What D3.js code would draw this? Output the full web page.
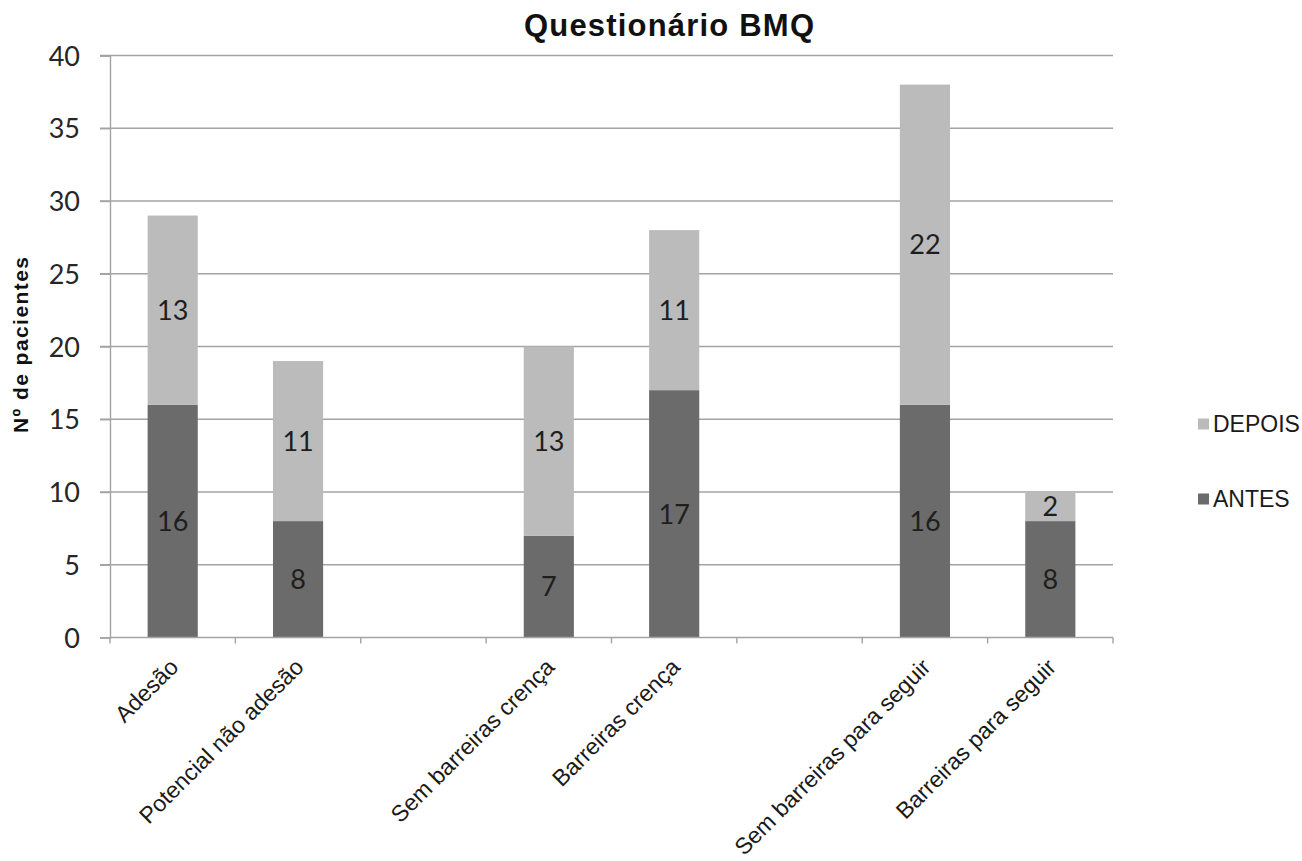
<!DOCTYPE html>
<html>
<head>
<meta charset="utf-8">
<script src="https://cdn.jsdelivr.net/npm/d3@7"></script>
<style>
  html, body { margin: 0; padding: 0; background: #ffffff; }
  svg { display: block; }
</style>
</head>
<body>
<svg id="chart" width="1302" height="861"></svg>
<script>
// BMQ questionnaire: number of patients per category, before and after
const categories = ["Adesão", "Potencial não adesão", "", "Sem barreiras crença", "Barreiras crença", "", "Sem barreiras para seguir", "Barreiras para seguir"];
const antes  = [16, 8, null, 7, 17, null, 16, 8];
const depois = [13, 11, null, 13, 11, null, 22, 2];
const seriesNames = ["ANTES", "DEPOIS"];
const yTicks = [0, 5, 10, 15, 20, 25, 30, 35, 40];

const colors = { ANTES: "#6b6b6b", DEPOIS: "#bbbbbb" };
const gridColor = "#a3a3a3";

const svg = d3.select("#chart");
const plot = { left: 110, right: 1113, top: 55.5, bottom: 637.5 };

const rows = categories.map((c, i) => ({ i, ANTES: antes[i], DEPOIS: depois[i] }));

const slot = d3.scaleBand()
  .domain(d3.range(categories.length))
  .range([plot.left, plot.right])
  .padding(0);
const barW = slot.bandwidth() * 0.4;

const y = d3.scaleLinear().domain([0, 40]).range([plot.bottom, plot.top]);

// gridlines
svg.append("g")
  .selectAll("line")
  .data(yTicks.slice(1))
  .join("line")
  .attr("x1", plot.left - 10).attr("x2", plot.right)
  .attr("y1", d => y(d)).attr("y2", d => y(d))
  .attr("stroke", gridColor).attr("stroke-width", 1.4);

// y axis
const yAxis = d3.axisLeft(y).tickValues(yTicks).tickSize(10).tickPadding(20);
const gy = svg.append("g").attr("transform", `translate(${plot.left},0)`).call(yAxis);
gy.select(".domain").attr("stroke", gridColor).attr("stroke-width", 1.4);
gy.selectAll(".tick line").attr("stroke", gridColor).attr("stroke-width", 1.4);
gy.selectAll(".tick text")
  .attr("font-family", "Lato, 'Open Sans', sans-serif")
  .attr("font-size", 27)
  .attr("fill", "#262626")
  .attr("dy", "0.36em");

// stacked bars
const stack = d3.stack().keys(seriesNames).value((d, k) => d[k] == null ? 0 : d[k]);
const layers = stack(rows.filter(r => r.ANTES != null));

const layerG = svg.append("g").selectAll("g")
  .data(layers)
  .join("g")
  .attr("fill", d => colors[d.key]);

layerG.selectAll("rect")
  .data(d => d.map(s => ({ key: d.key, s })))
  .join("rect")
  .attr("x", d => slot(d.s.data.i) + (slot.bandwidth() - barW) / 2)
  .attr("width", barW)
  .attr("y", d => y(d.s[1]))
  .attr("height", d => y(d.s[0]) - y(d.s[1]));

// value labels centred in each segment
layerG.selectAll("text")
  .data(d => d.map(s => ({ key: d.key, s })))
  .join("text")
  .attr("x", d => slot(d.s.data.i) + slot.bandwidth() / 2)
  .attr("y", d => y((d.s[0] + d.s[1]) / 2))
  .attr("dy", "0.36em")
  .attr("text-anchor", "middle")
  .attr("font-family", "Lato, 'Open Sans', sans-serif")
  .attr("font-size", 27)
  .attr("fill", "#1e1e1e")
  .text(d => d.s.data[d.key]);

// x axis: baseline and ticks between categories
const gx = svg.append("g");
gx.append("line")
  .attr("x1", plot.left).attr("x2", plot.right)
  .attr("y1", plot.bottom).attr("y2", plot.bottom)
  .attr("stroke", gridColor).attr("stroke-width", 1.4);
const bounds = d3.range(categories.length).map(i => slot(i)).concat([plot.right]);
gx.selectAll("line.tk")
  .data(bounds)
  .join("line")
  .attr("class", "tk")
  .attr("x1", d => d).attr("x2", d => d)
  .attr("y1", plot.bottom).attr("y2", plot.bottom + 6)
  .attr("stroke", gridColor).attr("stroke-width", 1.4);

gx.selectAll("text")
  .data(categories.map((c, i) => ({ c, i })).filter(d => d.c !== ""))
  .join("text")
  .attr("transform", d => `translate(${slot(d.i) + slot.bandwidth() / 2 + 7},${plot.bottom + 31}) rotate(-45)`)
  .attr("text-anchor", "end")
  .attr("font-family", "'Liberation Sans', Arial, sans-serif")
  .attr("font-size", 23)
  .attr("fill", "#1a1a1a")
  .text(d => d.c);

// title
svg.append("text")
  .attr("x", 669).attr("y", 36)
  .attr("text-anchor", "middle")
  .attr("font-family", "'Liberation Sans', Arial, sans-serif")
  .attr("font-weight", "bold")
  .attr("font-size", 31)
  .attr("textLength", 290)
  .attr("fill", "#111")
  .text("Questionário BMQ");

// y axis title
svg.append("text")
  .attr("transform", "translate(27.5,345) rotate(-90)")
  .attr("text-anchor", "middle")
  .attr("font-family", "'Liberation Sans', Arial, sans-serif")
  .attr("font-weight", "bold")
  .attr("font-size", 21)
  .attr("textLength", 176)
  .attr("fill", "#111")
  .text("Nº de pacientes");

// legend
const legendItems = [
  { key: "DEPOIS", y: 431.5 },
  { key: "ANTES", y: 506.5 }
];
const lg = svg.append("g").selectAll("g").data(legendItems).join("g");
lg.append("rect")
  .attr("x", 1198).attr("y", d => d.y - 13)
  .attr("width", 11).attr("height", 11)
  .attr("fill", d => colors[d.key]);
lg.append("text")
  .attr("x", 1213).attr("y", d => d.y)
  .attr("font-family", "'Liberation Sans', Arial, sans-serif")
  .attr("font-size", 23)
  .attr("fill", "#1a1a1a")
  .text(d => d.key);
</script>
</body>
</html>
